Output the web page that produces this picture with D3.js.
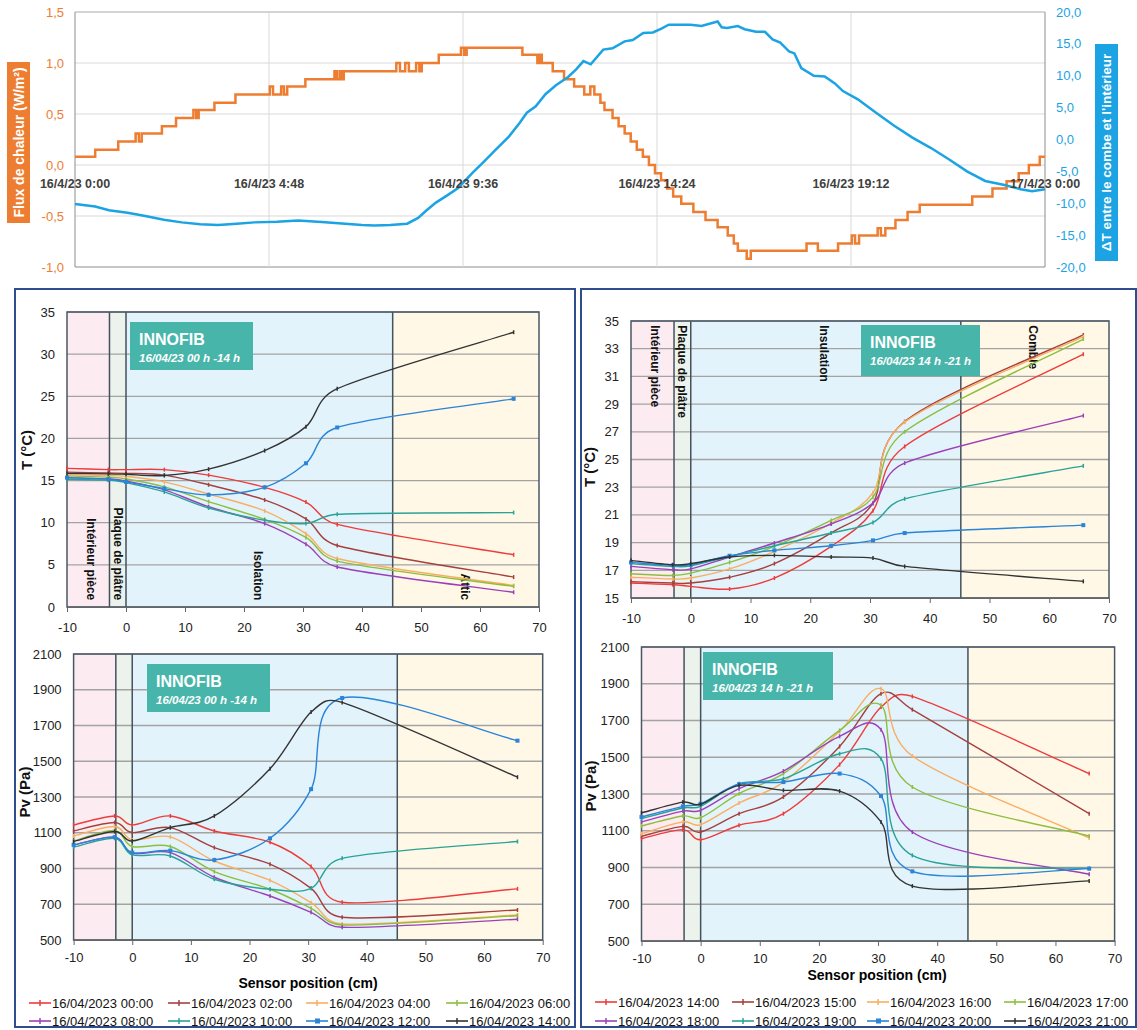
<!DOCTYPE html>
<html><head><meta charset="utf-8">
<script src="https://cdn.jsdelivr.net/npm/d3@7"></script>
<style>
body{margin:0;background:#fff}
text{font-family:"Liberation Sans",Arial,sans-serif}
</style>
</head><body>
<svg id="c" width="1137" height="1030"></svg>
<script>
// ---------------- DATA ----------------
const timeTicks = [0, 4.8, 9.6, 14.4, 19.2, 24];
const timeLabels = ["16/4/23 0:00","16/4/23 4:48","16/4/23 9:36","16/4/23 14:24","16/4/23 19:12","17/4/23 0:00"];
const fluxTicks = [-1, -0.5, 0, 0.5, 1, 1.5];
const dtTicks = [-20,-15,-10,-5,0,5,10,15,20];

const fluxHours = [0,0.5,1.07,1.5,1.58,1.65,2.15,2.5,2.93,3.0,3.06,3.45,3.97,4.82,4.9,5.1,5.17,5.25,5.7,6.42,6.48,6.55,6.6,6.65,7.95,8.04,8.17,8.26,8.44,8.52,8.58,9.0,9.55,9.63,9.69,11.07,11.44,11.5,11.55,11.82,12.1,12.35,12.6,12.75,12.85,13.0,13.1,13.3,13.45,13.6,13.75,13.9,14.05,14.2,14.35,14.5,14.65,14.8,15.0,15.3,15.6,15.9,16.15,16.3,16.4,16.62,16.72,18.1,18.38,18.88,19.22,19.3,19.4,19.86,19.94,20.05,20.3,20.6,20.9,22.2,22.7,23.05,23.35,23.6,23.87,24];
const fluxValues = [0.08,0.15,0.23,0.31,0.23,0.31,0.38,0.46,0.54,0.46,0.54,0.61,0.69,0.77,0.69,0.77,0.69,0.77,0.84,0.92,0.84,0.92,0.84,0.92,1.0,0.92,1.0,0.92,1.0,0.92,1.0,1.08,1.15,1.08,1.15,1.08,1.0,1.08,1.0,0.92,0.84,0.77,0.69,0.77,0.69,0.61,0.54,0.46,0.38,0.31,0.23,0.15,0.08,0.0,-0.08,-0.15,-0.23,-0.31,-0.38,-0.46,-0.54,-0.61,-0.69,-0.77,-0.84,-0.92,-0.84,-0.77,-0.84,-0.77,-0.69,-0.77,-0.69,-0.62,-0.69,-0.62,-0.54,-0.46,-0.39,-0.31,-0.23,-0.16,-0.08,0.0,0.08,0.08];

const dtHours = [0,0.5,0.84,1.3,1.74,2.2,2.64,3.1,3.54,4.0,4.44,5.0,5.52,6.1,6.69,7.1,7.41,7.8,8.22,8.49,8.7,8.93,9.2,9.48,9.84,10.1,10.38,10.74,11.0,11.18,11.4,11.64,11.9,12.2,12.4,12.58,12.76,13.07,13.3,13.6,13.8,14.06,14.3,14.51,14.69,15.23,15.5,15.9,16.0,16.13,16.4,16.57,16.85,17.07,17.26,17.45,17.67,17.8,17.97,18.28,18.55,18.8,19.0,19.37,19.82,20.26,20.72,21.17,21.62,22.07,22.52,22.97,23.4,23.68,24];
const dtValues = [-10.1,-10.5,-11.1,-11.5,-12.0,-12.6,-13.0,-13.3,-13.4,-13.2,-13.0,-12.9,-12.7,-12.95,-13.2,-13.4,-13.5,-13.4,-13.2,-12.3,-11.1,-9.9,-8.8,-7.6,-5.2,-3.6,-1.8,0.5,2.6,4.2,5.2,7.1,8.5,9.8,11.0,12.3,11.8,14.1,14.3,15.4,15.6,16.7,16.8,17.4,18.0,18.0,17.8,18.5,17.6,17.5,17.8,17.3,16.9,16.9,15.7,15.2,13.8,13.5,11.2,10.0,9.9,8.8,7.6,6.3,4.2,2.2,0.3,-1.3,-3.1,-5.0,-6.5,-7.1,-7.8,-8.1,-7.8];

const positions = [-10, -3, 0, 6.5, 14, 23.5, 30.5, 35.8, 65.7];
const zoneEdges = [-10, -2.8, 0, 45.2, 70];
const xTicks = [-10,0,10,20,30,40,50,60,70];

const morningLabels = ["16/04/2023 00:00","16/04/2023 02:00","16/04/2023 04:00","16/04/2023 06:00","16/04/2023 08:00","16/04/2023 10:00","16/04/2023 12:00","16/04/2023 14:00"];
const eveningLabels = ["16/04/2023 14:00","16/04/2023 15:00","16/04/2023 16:00","16/04/2023 17:00","16/04/2023 18:00","16/04/2023 19:00","16/04/2023 20:00","16/04/2023 21:00"];

const tempMorning = [
 [16.45,16.3,16.3,16.3,15.65,14.2,12.45,9.8,6.2],
 [16.0,15.9,15.85,15.65,14.5,12.7,10.45,7.3,3.55],
 [15.7,15.6,15.5,14.85,13.4,11.4,8.7,5.75,2.55],
 [15.55,15.4,15.2,14.25,12.5,10.4,8.25,5.45,2.45],
 [15.35,15.2,14.95,13.9,11.9,9.9,7.45,4.75,1.75],
 [15.15,15.05,14.75,13.65,11.75,10.3,9.9,11.0,11.2],
 [15.35,15.15,14.85,14.05,13.3,14.2,17.05,21.3,24.7],
 [15.85,15.8,15.75,15.6,16.35,18.55,21.4,25.9,32.6]
];
const pvMorning = [
 [1144,1194,1144,1194,1110,1047,911,711,786],
 [1110,1157,1101,1129,1017,924,789,627,668],
 [1082,1135,1060,1077,942,834,709,590,640],
 [1054,1112,1023,1023,883,784,677,584,636],
 [1032,1075,985,989,851,746,655,571,616],
 [1019,1069,976,970,840,784,789,957,1051],
 [1032,1075,989,1000,948,1069,1344,1854,1615],
 [1051,1107,1054,1129,1194,1458,1775,1829,1411]
];
const tempEvening = [
 [16.08,15.96,15.84,15.65,16.44,18.73,21.3,25.94,32.6],
 [16.18,16.08,16.08,16.5,17.48,19.7,21.85,27.74,33.99],
 [16.5,16.37,16.44,17.1,18.37,20.4,22.6,27.7,33.87],
 [16.75,16.63,16.8,17.57,18.73,20.6,22.28,27.0,33.7],
 [17.28,17.04,17.1,17.96,18.97,20.34,21.85,24.74,28.17],
 [17.48,17.28,17.33,18.0,18.77,19.69,20.46,22.16,24.54],
 [17.57,17.36,17.4,18.05,18.44,18.77,19.16,19.69,20.26],
 [17.72,17.4,17.48,17.96,18.08,17.96,17.88,17.28,16.2]
];
const pvEvening = [
 [1057,1106,1051,1130,1193,1460,1773,1831,1411],
 [1070,1124,1093,1193,1284,1559,1846,1759,1193],
 [1084,1148,1133,1251,1365,1641,1873,1507,1061],
 [1126,1180,1171,1302,1411,1646,1783,1338,1071],
 [1148,1207,1211,1329,1425,1614,1650,1093,863],
 [1166,1224,1233,1356,1383,1519,1492,966,894],
 [1175,1233,1247,1353,1365,1411,1289,879,894],
 [1197,1256,1244,1347,1320,1316,1148,799,827]
];
const seriesColors = ["#EE3B3B","#A5403F","#F9AE62","#8DBE3F","#9B40B8","#2AA397","#2A84D8","#333333"];
const squareMarker = [false,false,false,false,false,false,true,false];

// ---------------- DRAW ----------------
const svg = d3.select("#c");
const loc = d3.formatLocale({decimal:",",thousands:" ",grouping:[3],currency:["",""],minus:"-"});
const f1 = loc.format(".1f");
const fInt = loc.format("d");

// Excel-like smoothed line (Bezier with clamped handles), built on pixel points from the scales
function smoothPath(P){
  const p = d3.path();
  const dist = (a,b)=>Math.hypot(a[0]-b[0],a[1]-b[1]);
  p.moveTo(P[0][0],P[0][1]);
  for(let i=0;i<P.length-1;i++){
    const P0 = P[i-1]||P[i], P1 = P[i], P2 = P[i+1], P3 = P[i+2]||P[i+1];
    const d12 = dist(P1,P2), d02 = dist(P0,P2), d13 = dist(P1,P3);
    const a = d02>0 ? Math.min(1/6, 0.5*d12/d02) : 0;
    const b = d13>0 ? Math.min(1/6, 0.5*d12/d13) : 0;
    p.bezierCurveTo(P1[0]+a*(P2[0]-P0[0]), P1[1]+a*(P2[1]-P0[1]),
                    P2[0]-b*(P3[0]-P1[0]), P2[1]-b*(P3[1]-P1[1]), P2[0], P2[1]);
  }
  return p.toString();
}

// ===== Top chart =====
const xT = d3.scaleLinear().domain([0,24]).range([75,1045]);
const yF = d3.scaleLinear().domain([-1,1.5]).range([267,12]);
const yD = d3.scaleLinear().domain([-20,20]).range([267,12]);
const gTop = svg.append("g");
gTop.selectAll("line.hg").data(fluxTicks).join("line")
  .attr("x1",75).attr("x2",1045).attr("y1",d=>yF(d)).attr("y2",d=>yF(d))
  .attr("stroke",d=>d===-1?"#8c8c8c":"#d9d9d9").attr("stroke-width",1);
gTop.selectAll("line.vg").data(timeTicks).join("line")
  .attr("x1",d=>xT(d)).attr("x2",d=>xT(d)).attr("y1",12).attr("y2",267)
  .attr("stroke",(d,i)=>(i===0||i===5)?"#8c8c8c":"#d9d9d9").attr("stroke-width",1);
gTop.append("line").attr("x1",75).attr("x2",1045).attr("y1",12).attr("y2",12).attr("stroke","#bdbdbd");

gTop.append("path").datum(fluxHours.map((h,i)=>[h,fluxValues[i]]))
  .attr("fill","none").attr("stroke","#ED7D31").attr("stroke-width",2.5)
  .attr("d",d3.line().x(d=>xT(d[0])).y(d=>yF(d[1])).curve(d3.curveStepAfter));
gTop.append("path").datum(dtHours.map((h,i)=>[h,dtValues[i]]))
  .attr("fill","none").attr("stroke","#1CA3E3").attr("stroke-width",2.5)
  .attr("d",d3.line().x(d=>xT(d[0])).y(d=>yD(d[1])));

gTop.selectAll("text.fl").data(fluxTicks).join("text")
  .attr("x",64).attr("y",d=>yF(d)).attr("dy","0.35em").attr("text-anchor","end")
  .attr("fill","#ED7D31").attr("font-size",13).text(d=>f1(d));
gTop.selectAll("text.dl").data(dtTicks).join("text")
  .attr("x",1056).attr("y",d=>yD(d)).attr("dy","0.35em").attr("text-anchor","start")
  .attr("fill","#1CA3E3").attr("font-size",13).text(d=>f1(d));
gTop.selectAll("text.tl").data(timeTicks).join("text")
  .attr("x",d=>xT(d)).attr("y",188).attr("text-anchor","middle")
  .attr("fill","#404040").attr("font-size",12.5).attr("font-weight","bold")
  .text((d,i)=>timeLabels[i]);

gTop.append("rect").attr("x",7).attr("y",62).attr("width",23).attr("height",161).attr("fill","#ED7D31");
gTop.append("text").attr("transform","translate(18.5,142.5) rotate(-90)").attr("text-anchor","middle")
  .attr("dy","0.36em").attr("fill","#fff").attr("font-size",14).attr("font-weight","bold").text("Flux de chaleur (W/m²)");
gTop.append("rect").attr("x",1095).attr("y",44).attr("width",23).attr("height",217).attr("fill","#1CA3E3");
gTop.append("text").attr("transform","translate(1106.5,152.5) rotate(-90)").attr("text-anchor","middle")
  .attr("dy","0.36em").attr("fill","#fff").attr("font-size",13.5).attr("font-weight","bold").text("ΔT entre le combe et l'intérieur");

// ===== Boxes =====
svg.append("rect").attr("x",15).attr("y",289).attr("width",560).attr("height",738).attr("fill","none").attr("stroke","#2F4C8C").attr("stroke-width",2);
svg.append("rect").attr("x",581).attr("y",289).attr("width",555).attr("height",738).attr("fill","none").attr("stroke","#2F4C8C").attr("stroke-width",2);

const zoneColors = ["#FDEBF2","#ECF2EC","#E2F3FB","#FFF8E6"];

function panel(cfg){
  const g = svg.append("g");
  const x = d3.scaleLinear().domain([-10,70]).range([cfg.x0,cfg.x1]);
  const y = d3.scaleLinear().domain(cfg.yDom).range([cfg.y1,cfg.y0]);
  g.selectAll("rect.z").data(d3.pairs(zoneEdges)).join("rect")
    .attr("x",d=>x(d[0])).attr("width",d=>x(d[1])-x(d[0]))
    .attr("y",cfg.y0).attr("height",cfg.y1-cfg.y0).attr("fill",(d,i)=>zoneColors[i]);
  const yt = d3.range(cfg.yDom[0], cfg.yDom[1]+1e-6, cfg.step);
  g.selectAll("line.g").data(yt).join("line")
    .attr("x1",cfg.x0).attr("x2",cfg.x1).attr("y1",d=>y(d)).attr("y2",d=>y(d))
    .attr("stroke","#a3a3a3").attr("stroke-width",1.3);
  g.selectAll("line.zb").data(zoneEdges.slice(1,4)).join("line")
    .attr("x1",d=>x(d)).attr("x2",d=>x(d)).attr("y1",cfg.y0).attr("y2",cfg.y1)
    .attr("stroke","#44515e").attr("stroke-width",1.5);
  g.append("rect").attr("x",cfg.x0).attr("y",cfg.y0).attr("width",cfg.x1-cfg.x0).attr("height",cfg.y1-cfg.y0)
    .attr("fill","none").attr("stroke","#4a5866").attr("stroke-width",1.5);
  const ax = g.append("g").attr("transform",`translate(0,${cfg.y1})`)
    .call(d3.axisBottom(x).tickValues(xTicks).tickFormat(fInt).tickSize(5).tickSizeOuter(0).tickPadding(cfg.pad));
  ax.select(".domain").attr("stroke","#666");
  ax.selectAll(".tick line").attr("stroke","#666");
  ax.selectAll("text").attr("font-size",13).attr("fill","#222").attr("font-family","Liberation Sans, Arial, sans-serif");
  g.selectAll("text.yl").data(yt).join("text")
    .attr("x",cfg.x0-12).attr("y",d=>y(d)).attr("dy","0.35em").attr("text-anchor","end")
    .attr("font-size",13).attr("fill","#222").text(d=>d);
  g.append("text").attr("transform",`translate(${cfg.tx},${cfg.ty}) rotate(-90)`)
    .attr("text-anchor","middle").attr("dy","0.36em").attr("font-size",15).attr("font-weight","bold")
    .attr("fill","#111").text(cfg.title);
  if(cfg.zoneText){
    cfg.zoneText.forEach(z=>{
      g.append("text").attr("transform",`translate(${x(z.x)},${y(cfg.zoneTextY)}) rotate(90)`)
        .attr("text-anchor",cfg.zoneAnchor).attr("dominant-baseline","middle")
        .attr("font-size",12).attr("font-weight","bold").attr("fill","#111").text(z.t);
    });
  }
  const b = cfg.box;
  g.append("rect").attr("x",b[0]).attr("y",b[1]).attr("width",b[2]).attr("height",b[3]).attr("fill","#47B5AA");
  g.append("text").attr("x",b[0]+9).attr("y",b[1]+23).attr("fill","#fff").attr("font-size",16).attr("font-weight","bold").text("INNOFIB");
  g.append("text").attr("x",b[0]+9).attr("y",b[1]+40).attr("fill","#fff").attr("font-size",11.5)
    .attr("font-weight","bold").attr("font-style","italic").text(cfg.sub);
  cfg.data.forEach((vals,si)=>{
    const pts = positions.map((p,i)=>[x(p),y(vals[i])]);
    g.append("path").attr("fill","none").attr("stroke",seriesColors[si]).attr("stroke-width",1.4).attr("d",smoothPath(pts));
    if(squareMarker[si]){
      g.selectAll(null).data(pts).join("rect").attr("x",d=>d[0]-2).attr("y",d=>d[1]-2)
        .attr("width",4).attr("height",4).attr("fill",seriesColors[si]);
    } else {
      g.selectAll(null).data(pts).join("line").attr("x1",d=>d[0]).attr("x2",d=>d[0])
        .attr("y1",d=>d[1]-2).attr("y2",d=>d[1]+2).attr("stroke",seriesColors[si]).attr("stroke-width",1.5);
    }
  });
}

panel({x0:67,x1:539,y0:312,y1:607,yDom:[0,35],step:5,pad:11,title:"T (°C)",tx:27,ty:450,
  zoneText:[{x:-6.1,t:"Intérieur pièce"},{x:-1.5,t:"Plaque de plâtre"},{x:22.2,t:"Isolation"},{x:57.4,t:"Attic"}],
  zoneTextY:0.8,zoneAnchor:"end",box:[130,322,123,48],sub:"16/04/23 00 h -14 h",data:tempMorning});
panel({x0:73.6,x1:542.7,y0:654,y1:940,yDom:[500,2100],step:200,pad:8,title:"Pv (Pa)",tx:25,ty:792,
  box:[147,664,123,48],sub:"16/04/23 00 h -14 h",data:pvMorning});
panel({x0:631,x1:1109,y0:321,y1:598,yDom:[15,35],step:2,pad:11,title:"T (°C)",tx:590,ty:467,
  zoneText:[{x:-6.05,t:"Intérieur pièce"},{x:-1.6,t:"Plaque de plâtre"},{x:22.1,t:"Insulation"},{x:57.1,t:"Comble"}],
  zoneTextY:34.7,zoneAnchor:"start",box:[861,325,119,51],sub:"16/04/23 14 h -21 h",data:tempEvening});
panel({x0:641.5,x1:1114.6,y0:647,y1:941,yDom:[500,2100],step:200,pad:8,title:"Pv (Pa)",tx:591,ty:786,
  box:[703,652,130,48],sub:"16/04/23 14 h -21 h",data:pvEvening});

svg.append("text").attr("x",308).attr("y",988).attr("text-anchor","middle").attr("font-size",14).attr("font-weight","bold").text("Sensor position (cm)");
svg.append("text").attr("x",877).attr("y",980).attr("text-anchor","middle").attr("font-size",14).attr("font-weight","bold").text("Sensor position (cm)");

function legend(labels, xs, rows){
  labels.forEach((lab,i)=>{
    const lx = xs[i%4], ly = rows[Math.floor(i/4)];
    const c = seriesColors[i];
    svg.append("line").attr("x1",lx).attr("x2",lx+22).attr("y1",ly).attr("y2",ly).attr("stroke",c).attr("stroke-width",1.6);
    if(squareMarker[i]) svg.append("rect").attr("x",lx+9).attr("y",ly-2.5).attr("width",5).attr("height",5).attr("fill",c);
    else svg.append("line").attr("x1",lx+11).attr("x2",lx+11).attr("y1",ly-3).attr("y2",ly+3).attr("stroke",c).attr("stroke-width",1.5);
    svg.append("text").attr("x",lx+23).attr("y",ly).attr("dy","0.36em").attr("font-size",13).attr("fill","#111").text(lab);
  });
}
legend(morningLabels,[29,168,306,446],[1003,1021]);
legend(eveningLabels,[595,732,867,1004],[1002,1021]);
</script>
</body></html>
